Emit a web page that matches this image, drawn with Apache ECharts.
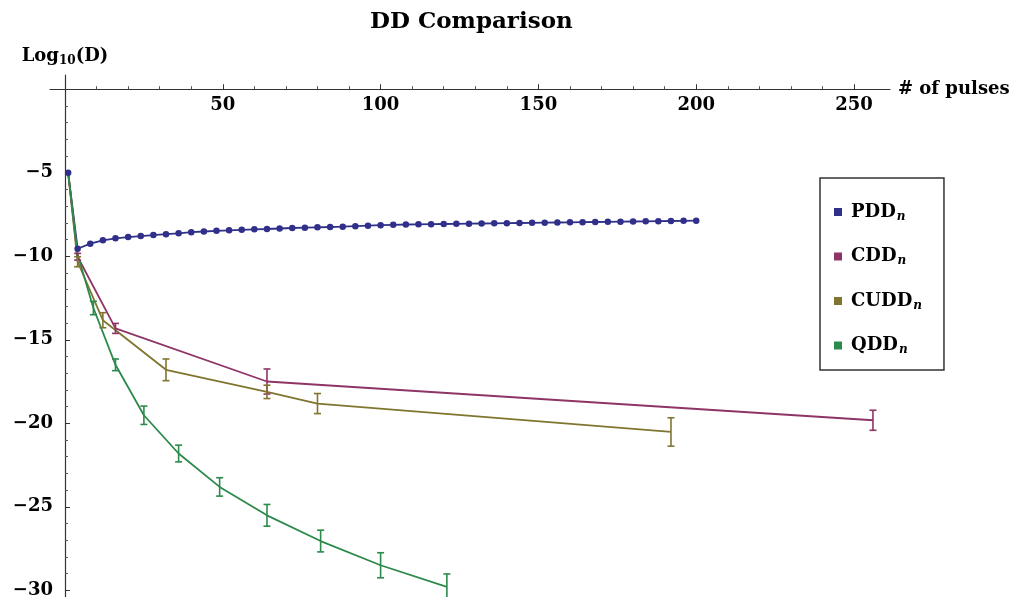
<!DOCTYPE html>
<html>
<head>
<meta charset="utf-8">
<script src="https://cdn.jsdelivr.net/npm/echarts@6/dist/echarts.min.js"></script>
<style>
html,body{margin:0;padding:0;background:#fff;}
#c{width:1021px;height:597px;}
</style>
</head>
<body>
<div id="c"></div>
<script>
// ---------------- data ----------------
const seriesNames = ['PDD', 'CDD', 'CUDD', 'QDD'];

const pddX = [1, 4, 8, 12, 16, 20, 24, 28, 32, 36, 40, 44, 48, 52, 56, 60, 64, 68, 72, 76, 80,
  84, 88, 92, 96, 100, 104, 108, 112, 116, 120, 124, 128, 132, 136, 140, 144, 148, 152, 156, 160,
  164, 168, 172, 176, 180, 184, 188, 192, 196, 200];
const pddY = [-5, -9.55, -9.25, -9.05, -8.93, -8.85, -8.79, -8.73, -8.68, -8.63, -8.56, -8.52, -8.48,
  -8.45, -8.42, -8.39, -8.37, -8.34, -8.31, -8.29, -8.27, -8.25, -8.23, -8.20, -8.17, -8.14, -8.12,
  -8.10, -8.09, -8.08, -8.07, -8.06, -8.05, -8.04, -8.03, -8.02, -8.01, -8.00, -7.99, -7.98, -7.97,
  -7.96, -7.95, -7.94, -7.93, -7.92, -7.91, -7.90, -7.89, -7.88, -7.87];

const cddX = [1, 4, 16, 64, 256];
const cddY = [-5, -10.03, -14.32, -17.5, -19.82];
const cddErr = [0, 0.2, 0.3, 0.75, 0.6];

const cuddX = [1, 4, 12, 32, 64, 80, 192];
const cuddY = [-5, -10.33, -13.83, -16.8, -18.12, -18.82, -20.52];
const cuddErr = [0, 0.3, 0.45, 0.65, 0.4, 0.6, 0.85];

const qddX = [1, 4, 9, 16, 25, 36, 49, 64, 81, 100, 121];
const qddY = [-5, -9.9, -13.1, -16.5, -19.52, -21.81, -23.81, -25.51, -27.05, -28.5, -29.8];
const qddErr = [0, 0, 0.4, 0.35, 0.55, 0.5, 0.55, 0.65, 0.65, 0.75, 0.78];

const xTickStep = 50;
const yTickStep = 5;

// ---------------- style / layout ----------------
const colors = ['#30308a', '#8e3466', '#80752f', '#2c8a4b'];
const FONT = 'DejaVu Serif';

const X_MIN_EXT = -4.75, X_MAX_EXT = 261.4, Y_MIN_EXT = -30.4, Y_MAX_EXT = 0.85;
const G_LEFT = 50, G_RIGHT = 1021 - 890, G_TOP = 75, G_BOTTOM = 0;
const W = 1021 - G_LEFT - G_RIGHT, H = 597 - G_TOP - G_BOTTOM;
const pxX = W / (X_MAX_EXT - X_MIN_EXT), pxY = H / (Y_MAX_EXT - Y_MIN_EXT);
const X0_MAX = 250, Y0_MIN = -30;

const zip = (xs, ys) => xs.map((x, i) => [x, ys[i]]);
const zip3 = (xs, ys, es) => xs.map((x, i) => [x, ys[i], es[i]]).filter(d => d[2] > 0);

function errRender(color) {
  return function (params, api) {
    const x = api.value(0), y = api.value(1), e = api.value(2);
    const t = api.coord([x, y + e]), b = api.coord([x, y - e]);
    const hw = 3.5;
    const st = { stroke: color, lineWidth: 1.6 };
    return {
      type: 'group',
      children: [
        { type: 'line', shape: { x1: t[0], y1: t[1], x2: b[0], y2: b[1] }, style: st },
        { type: 'line', shape: { x1: t[0] - hw, y1: t[1], x2: t[0] + hw, y2: t[1] }, style: st },
        { type: 'line', shape: { x1: b[0] - hw, y1: b[1], x2: b[0] + hw, y2: b[1] }, style: st }
      ]
    };
  };
}

const tickFmt = v => (v === 0 || v % 5 !== 0) ? '' : String(v).replace('-', '\u2212');
const labelStyle = { fontFamily: FONT, fontWeight: 'bold', fontSize: 18, color: '#000' };

// data series live on the full-extent axes (index 1)
const lineSeries = (name, data, color, withSymbol) => ({
  type: 'line', name, data, xAxisIndex: 1, yAxisIndex: 1, clip: false,
  symbol: withSymbol ? 'circle' : 'none', symbolSize: 6.5, showSymbol: !!withSymbol,
  lineStyle: { color, width: 1.8 }, itemStyle: { color }, z: 3
});
const errSeries = (name, data, color) => ({
  type: 'custom', name, data, xAxisIndex: 1, yAxisIndex: 1,
  encode: { x: 0, y: 1 }, renderItem: errRender(color), z: 4, silent: true
});

const option = {
  animation: false,
  backgroundColor: '#fff',
  color: colors,
  title: {
    text: 'DD Comparison', left: 365, top: 6,
    textStyle: { fontFamily: FONT, fontWeight: 'bold', fontSize: 23, color: '#000' }
  },
  legend: {
    orient: 'vertical', left: 820, top: 178,
    data: seriesNames,
    icon: 'rect', itemWidth: 8, itemHeight: 8, itemGap: 25,
    padding: [25, 22, 14, 14],
    borderColor: '#333', borderWidth: 1.5, backgroundColor: '#fff',
    formatter: n => '{m|' + n + '}{s|n}',
    textStyle: {
      rich: {
        m: { fontFamily: FONT, fontWeight: 'bold', fontSize: 18, color: '#000', padding: [0, 0, 0, 4] },
        s: { fontFamily: FONT, fontWeight: 'bold', fontStyle: 'italic', fontSize: 12, color: '#000', padding: [9, 0, 0, 1] }
      }
    }
  },
  grid: [
    { left: G_LEFT + (0 - X_MIN_EXT) * pxX, top: G_TOP + (Y_MAX_EXT - 0) * pxY,
      width: X0_MAX * pxX, height: (0 - Y0_MIN) * pxY, containLabel: false, outerBoundsMode: 'none' },
    { left: G_LEFT, top: G_TOP, width: W, height: H, containLabel: false, outerBoundsMode: 'none' }
  ],
  xAxis: [
    { type: 'value', gridIndex: 0, min: 0, max: X0_MAX, interval: xTickStep, position: 'top',
      axisLine: { show: false, onZero: false },
      axisTick: { show: true, inside: false, length: 5, lineStyle: { color: '#333', width: 1 } },
      minorTick: { show: true, splitNumber: 5, length: 3, lineStyle: { color: '#555', width: 1 } },
      axisLabel: { show: true, inside: true, formatter: tickFmt, margin: 7, ...labelStyle },
      splitLine: { show: false }, minorSplitLine: { show: false } },
    { type: 'value', gridIndex: 1, min: X_MIN_EXT, max: X_MAX_EXT,
      axisLine: { onZero: true, lineStyle: { color: '#333', width: 1.2 } },
      axisTick: { show: false }, axisLabel: { show: false }, splitLine: { show: false },
      name: '# of pulses', nameLocation: 'end', nameGap: 8,
      nameTextStyle: { fontFamily: FONT, fontWeight: 'bold', fontSize: 18, color: '#000', verticalAlign: 'middle', padding: [0, 0, 2, 0] } }
  ],
  yAxis: [
    { type: 'value', gridIndex: 0, min: Y0_MIN, max: 0, interval: yTickStep, position: 'left',
      axisLine: { show: false, onZero: false },
      axisTick: { show: true, inside: true, length: 5, lineStyle: { color: '#333', width: 1 } },
      minorTick: { show: true, splitNumber: 5, length: 3, lineStyle: { color: '#555', width: 1 } },
      axisLabel: { formatter: tickFmt, margin: 12, ...labelStyle },
      splitLine: { show: false }, minorSplitLine: { show: false } },
    { type: 'value', gridIndex: 1, min: Y_MIN_EXT, max: Y_MAX_EXT,
      axisLine: { onZero: true, lineStyle: { color: '#333', width: 1.2 } },
      axisTick: { show: false }, axisLabel: { show: false }, splitLine: { show: false },
      name: '{a|Log}{b|10}{a|(D)}', nameLocation: 'end', nameGap: 8,
      nameTextStyle: {
        rich: {
          a: { fontFamily: FONT, fontWeight: 'bold', fontSize: 18, color: '#000' },
          b: { fontFamily: FONT, fontWeight: 'bold', fontSize: 12, color: '#000', padding: [9, 0, 0, 0] }
        }
      } }
  ],
  series: [
    lineSeries(seriesNames[0], zip(pddX, pddY), colors[0], true),
    lineSeries(seriesNames[1], zip(cddX, cddY), colors[1], false),
    lineSeries(seriesNames[2], zip(cuddX, cuddY), colors[2], false),
    lineSeries(seriesNames[3], zip(qddX, qddY), colors[3], false),
    errSeries('CDD err', zip3(cddX, cddY, cddErr), colors[1]),
    errSeries('CUDD err', zip3(cuddX, cuddY, cuddErr), colors[2]),
    errSeries('QDD err', zip3(qddX, qddY, qddErr), colors[3])
  ]
};

const chart = echarts.init(document.getElementById('c'), null, { renderer: 'canvas' });
chart.setOption(option);
</script>
</body>
</html>
